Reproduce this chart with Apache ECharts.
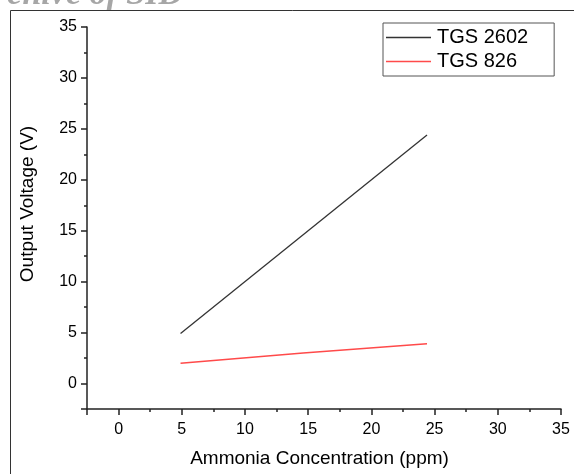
<!DOCTYPE html>
<html><head><meta charset="utf-8">
<script src="https://cdn.jsdelivr.net/npm/echarts@6/dist/echarts.min.js"></script>
<style>html,body{margin:0;padding:0;background:#fff}#c{width:574px;height:474px}</style>
</head><body><div id="c"></div>
<script>
var seriesNames = ['TGS 2602', 'TGS 826'];
var tgs2602 = [[4.9, 4.9], [24.4, 24.4]];
var tgs826 = [[4.9, 2.0], [14.6, 3.0], [24.4, 3.9]];
var xTitle = 'Ammonia Concentration (ppm)';
var yTitle = 'Output Voltage (V)';
var axisMin = -2.5, axisMax = 35;

var chart = echarts.init(document.getElementById('c'));
var font = 'Liberation Sans, Arial, sans-serif';
function lbl(v){ return (Math.abs(v % 5) < 1e-9) ? String(v) : ''; }
var lineCol = '#222';
chart.setOption({
  animation: false,
  backgroundColor: '#fff',
  graphic: [
    {type: 'text', style: {text: 'Archive of SID', x: 183, y: 12, textAlign: 'right', textVerticalAlign: 'bottom', fill: '#a6a6a6', font: 'italic bold 34px "Liberation Serif", serif'}},
    {type: 'polyline', shape: {points: [[10.5, 474], [10.5, 10.5], [574, 10.5]]}, style: {stroke: '#333', lineWidth: 1, fill: null}}
  ],
  grid: {left: 87, right: 13, top: 27, bottom: 65, containLabel: false},
  legend: {
    orient: 'vertical', left: 383, top: 23,
    data: seriesNames,
    icon: 'rect',
    borderColor: '#555', borderWidth: 1, borderRadius: 0,
    padding: [4, 26, 4, 3], itemGap: 3,
    itemWidth: 45, itemHeight: 1.5,
    textStyle: {fontFamily: font, fontSize: 20, color: '#000', padding: [0, 0, 0, 1], lineHeight: 21}
  },
  xAxis: [
    {type: 'value', min: axisMin, max: axisMax, interval: 2.5, position: 'bottom',
     name: xTitle, nameLocation: 'middle', nameGap: 40,
     nameTextStyle: {fontFamily: font, fontSize: 19, color: '#000', padding: [0, 9, 0, 0]},
     axisLine: {show: true, onZero: false, lineStyle: {color: lineCol, width: 1.5}},
     axisTick: {show: true, inside: false, length: 3, lineStyle: {color: lineCol, width: 1.5}},
     axisLabel: {formatter: lbl, fontFamily: font, fontSize: 16, color: '#000', margin: 13, showMinLabel: true, showMaxLabel: true},
     splitLine: {show: false}},
    {type: 'value', min: axisMin, max: axisMax, minInterval: 5, maxInterval: 5, splitNumber: 8, position: 'bottom',
     axisLine: {show: false, onZero: false},
     axisTick: {show: true, inside: false, length: 6, lineStyle: {color: lineCol, width: 1.5}},
     axisLabel: {show: false}, splitLine: {show: false}}
  ],
  yAxis: [
    {type: 'value', min: axisMin, max: axisMax, interval: 2.5, position: 'left',
     name: yTitle, nameLocation: 'middle', nameGap: 50,
     nameTextStyle: {fontFamily: font, fontSize: 19, color: '#000', padding: [0, 0, 0, 28]},
     axisLine: {show: true, onZero: false, lineStyle: {color: lineCol, width: 1.5}},
     axisTick: {show: true, inside: false, length: 3, lineStyle: {color: lineCol, width: 1.5}},
     axisLabel: {formatter: lbl, fontFamily: font, fontSize: 16, color: '#000', margin: 10, showMinLabel: true, showMaxLabel: true},
     splitLine: {show: false}},
    {type: 'value', min: axisMin, max: axisMax, minInterval: 5, maxInterval: 5, splitNumber: 8, position: 'left',
     axisLine: {show: false, onZero: false},
     axisTick: {show: true, inside: false, length: 6, lineStyle: {color: lineCol, width: 1.5}},
     axisLabel: {show: false}, splitLine: {show: false}}
  ],
  series: [
    {name: seriesNames[0], type: 'line', data: tgs2602, symbol: 'none', xAxisIndex: 0, yAxisIndex: 0,
     lineStyle: {color: '#333', width: 1.3}, itemStyle: {color: '#333'}},
    {name: seriesNames[1], type: 'line', data: tgs826, symbol: 'none', xAxisIndex: 0, yAxisIndex: 0,
     lineStyle: {color: '#ff4a4a', width: 1.5}, itemStyle: {color: '#ff4a4a'}}
  ]
});
</script></body></html>
